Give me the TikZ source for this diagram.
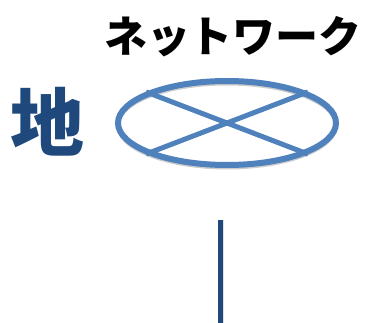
\documentclass[tikz,border=0pt]{standalone}
\usepackage{fontspec}
\newfontfamily\jpfont{Noto Sans CJK JP}
\usepackage{xcolor}
\usetikzlibrary{shapes.geometric, positioning}
\definecolor{netblue}{HTML}{4F81BD}
\definecolor{darkblue}{HTML}{1F497D}

\begin{document}
\begin{tikzpicture}[
			x=1pt, y=-1pt,
			RingCfg/.style={
				ellipse, draw=netblue, line width=6pt,
				minimum width=218pt, minimum height=84pt,
				inner sep=0pt
			},
			CrossCfg/.style={draw=netblue, line width=5pt},
			StemCfg/.style={draw=darkblue, line width=5pt}
			]
			
			\useasboundingbox (0,0) rectangle (365,323);
			
			\path
			(233,37) node [font=\jpfont\bfseries\fontsize{43}{43}\selectfont] (TITLE) {ネットワーク}
			(47,122) node [font=\jpfont\bfseries\fontsize{74}{74}\selectfont, text=darkblue] (CHI) {地}
			(227,126) node [RingCfg, draw=black!20, line width=3pt] (SHADOW) {}
			(227,123) node [RingCfg] (NET) {}
			(220,220) coordinate (TOP)
			(220,323) coordinate (BOTTOM);
			
			\draw [CrossCfg]
			(NET.159) -- (NET.-21)
			(NET.21) -- (NET.201);
			
			\draw [draw=black!12, line width=3pt] ([xshift=2pt]TOP) -- ([xshift=2pt]BOTTOM);
			\draw [StemCfg] (TOP) -- (BOTTOM);
		\end{tikzpicture}
\end{document}
